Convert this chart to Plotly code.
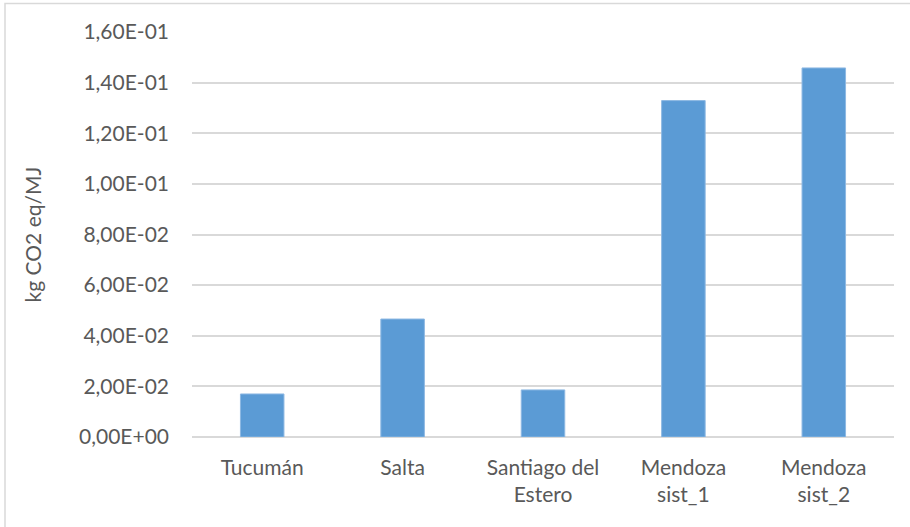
import plotly.graph_objects as go

categories = ["Tucumán", "Salta", "Santiago del<br>Estero", "Mendoza<br>sist_1", "Mendoza<br>sist_2"]
values = [0.0170, 0.0466, 0.0186, 0.1329, 0.1458]
tick_vals = [0.0, 0.02, 0.04, 0.06, 0.08, 0.10, 0.12, 0.14, 0.16]
tick_text = ["0,00E+00", "2,00E-02", "4,00E-02", "6,00E-02", "8,00E-02",
             "1,00E-01", "1,20E-01", "1,40E-01", "1,60E-01"]
y_title = "kg CO2 eq/MJ"

W, H = 910, 527
L, R, T, B = 192, 16, 32, 90
pw, ph = W - L - R, H - T - B

def px(x):
    return (x - L) / pw

def py(y):
    return (H - B - y) / ph

FONT = "Lato"
TXT = "#595959"
FS = 21

fig = go.Figure(go.Bar(
    x=categories, y=values,
    marker=dict(color="#5B9BD5", line=dict(color="#8DB8E3", width=1)),
    width=0.31,
    hoverinfo="skip",
))

fig.update_layout(
    width=W, height=H,
    margin=dict(l=L, r=R, t=T, b=B),
    paper_bgcolor="white", plot_bgcolor="white",
    font=dict(family=FONT, color=TXT, size=FS),
    showlegend=False,
    xaxis=dict(
        showgrid=False, zeroline=False, showline=False, ticks="",
        tickfont=dict(size=FS, color=TXT, family=FONT),
        ticklabelstandoff=16,
        fixedrange=True,
    ),
    yaxis=dict(
        range=[0, 0.16],
        tickvals=tick_vals, ticktext=tick_text,
        showgrid=True, gridcolor="#D9D9D9", gridwidth=1.5,
        zeroline=True, zerolinecolor="#D9D9D9", zerolinewidth=1.5,
        showline=False, ticks="",
        tickfont=dict(size=FS, color=TXT, family=FONT),
        ticklabelstandoff=22,
        title=dict(text=y_title, font=dict(size=FS, color=TXT, family=FONT), standoff=31),
        fixedrange=True,
    ),
    shapes=[dict(
        type="rect", xref="paper", yref="paper",
        x0=px(5), x1=px(918), y0=py(535), y1=py(3.5),
        line=dict(color="#D9D9D9", width=1.5), fillcolor="rgba(0,0,0,0)",
        layer="below",
    )],
)

fig.write_html("out.html", config={"displayModeBar": False},
               post_script="document.body.style.margin='0px';")
